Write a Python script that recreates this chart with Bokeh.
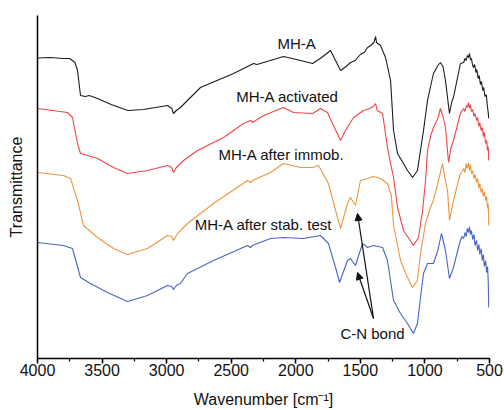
from bokeh.plotting import figure
from bokeh.models import Range1d, SingleIntervalTicker, FixedTicker, Arrow, NormalHead
from bokeh.core.properties import value
from bokeh.embed import file_html
from bokeh.resources import INLINE

FONT = "Liberation Sans"

# ---- data (wavenumber, transmittance in arbitrary offset units) ----
wn_a = [4000, 3900, 3800, 3750, 3710, 3690, 3667, 3630, 3600, 3535, 3430, 3300, 3180, 2993, 2960, 2947, 2925,
        2893, 2839, 2738, 2482, 2327, 2300, 2095, 1963, 1870, 1800, 1731, 1700, 1653, 1620, 1576, 1540, 1500,
        1470, 1444, 1420, 1395, 1382, 1375, 1344, 1305, 1266, 1243, 1212, 1135, 1096, 1058, 1011, 980, 934,
        900, 880, 860, 841, 810, 790, 779, 725, 700, 690, 680, 672, 663, 655, 648, 640, 632, 624, 615, 605,
        598, 588, 580, 570, 562, 552, 545, 535, 525, 516, 510, 506]
t_a = [300.5, 301, 300, 300, 296, 288, 263, 262, 263, 260, 254, 248, 249, 253, 250, 245, 248,
       251, 258, 271, 285, 295, 294, 302, 298, 295, 301, 308, 300, 288, 291, 296, 298, 304,
       306, 311, 313, 316, 322, 316, 313, 301, 278, 228, 205, 188, 181, 188, 228, 258, 285,
       293, 296, 292, 278, 245, 258, 261, 295, 296, 300, 298, 303, 301, 305, 299, 300, 294, 291, 294, 286,
       289, 280, 283, 274, 277, 268, 271, 262, 264, 252, 246, 240]

wn_b = [4000, 3768, 3729, 3690, 3667, 3613, 3535, 3411, 3303, 3148, 2993, 2960, 2947, 2925, 2908, 2869, 2761,
        2560, 2405, 2350, 2335, 2250, 2095, 2018, 1870, 1809, 1754, 1716, 1653, 1615, 1553, 1476, 1430, 1400,
        1382, 1370, 1328, 1290, 1266, 1243, 1212, 1166, 1089, 1050, 1018, 995, 980, 955, 934, 900, 880, 862,
        841, 817, 800, 779, 725, 712, 700, 690, 680, 672, 663, 655, 648, 640, 630, 620, 612, 600, 592, 582,
        575, 565, 556, 548, 540, 530, 522, 515, 510, 506]
t_b = [250, 246, 241, 215, 205, 203, 200, 191, 185, 188, 193, 191, 186, 191, 193, 198, 208,
       221, 235, 238, 236, 243, 251, 246, 245, 250, 246, 235, 218, 228, 241, 248, 250, 252,
       255, 248, 245, 211, 195, 181, 151, 128, 113, 121, 148, 178, 208, 223, 231, 240, 250, 243,
       231, 196, 210, 218, 245, 248, 250, 247, 253, 251, 256, 250, 254, 247, 249, 242, 245, 238, 241, 232,
       236, 228, 231, 222, 226, 215, 218, 208, 212, 198]

wn_c = [4000, 3799, 3744, 3690, 3644, 3535, 3411, 3303, 3148, 2993, 2960, 2947, 2925, 2908, 2839, 2637, 2374,
        2350, 2335, 2196, 2095, 1963, 1870, 1824, 1747, 1692, 1653, 1600, 1576, 1538, 1499, 1444, 1400, 1344,
        1290, 1260, 1243, 1189, 1135, 1096, 1058, 1034, 996, 957, 930, 895, 864, 845, 825, 810, 779, 740,
        725, 712, 700, 690, 680, 672, 663, 655, 648, 640, 630, 620, 612, 600, 592, 582, 575, 565, 556, 548,
        540, 530, 522, 515, 510, 506]
t_c = [186, 183, 180, 158, 133, 121, 110, 104, 110, 123, 122, 118, 123, 126, 135, 155, 178,
       176, 178, 186, 195, 191, 191, 193, 175, 148, 130, 155, 161, 153, 178, 180, 182, 180,
       175, 163, 133, 98, 81, 71, 78, 105, 135, 151, 160, 178, 195, 180, 168, 138, 158, 178,
       185, 187, 190, 186, 195, 190, 196, 188, 194, 185, 188, 180, 184, 176, 180, 170, 175, 166, 170, 162,
       167, 158, 162, 150, 155, 133]

wn_d = [4000, 3799, 3729, 3667, 3590, 3458, 3303, 3148, 2993, 2960, 2947, 2925, 2893, 2839, 2637, 2374, 2350,
        2335, 2196, 2095, 1940, 1809, 1747, 1692, 1661, 1600, 1576, 1538, 1483, 1444, 1398, 1328, 1290, 1243,
        1189, 1135, 1089, 1058, 1034, 1011, 980, 934, 900, 872, 841, 810, 779, 740, 725, 712, 700, 690, 680,
        672, 663, 655, 648, 640, 630, 620, 612, 600, 592, 582, 575, 565, 556, 548, 540, 530, 522, 515, 510, 506]
t_d = [116, 113, 110, 81, 75, 66, 57, 63, 73, 72, 69, 73, 75, 85, 98, 113, 111,
       113, 120, 121, 120, 123, 115, 91, 76, 98, 100, 93, 115, 111, 113, 111, 98, 58,
       45, 35, 25, 35, 61, 85, 95, 95, 108, 125, 108, 80, 91, 111, 118, 122, 120, 126, 122,
       130, 126, 132, 124, 128, 119, 124, 113, 118, 108, 114, 104, 110, 98, 104, 92, 98, 86, 92, 78, 51]

series_names = ["MH-A", "MH-A activated", "MH-A after immob.", "MH-A after stab. test"]
series_colors = ["#1c1c1c", "#f04545", "#ee9540", "#4566c4"]
label_wn = [1994, 2064, 2111, 2250]
label_t = [315.5, 262, 204, 134]

note_text = "C-N bond"
note_wn, note_t = 1406, 25
arrow_from = (1398, 40)
arrow_tips = [(1522, 145), (1522, 86)]

p = figure(width=504, height=410, output_backend="svg", toolbar_location=None,
           x_range=Range1d(4000, 500), y_range=Range1d(0, 343),
           min_border_left=37, min_border_right=15, min_border_top=15, min_border_bottom=52)
p.outline_line_color = None
p.xgrid.visible = False
p.ygrid.visible = False
p.background_fill_color = "white"
p.border_fill_color = "white"

for xs, ys, c in zip([wn_a, wn_b, wn_c, wn_d], [t_a, t_b, t_c, t_d], series_colors):
    p.line(xs, ys, line_color=c, line_width=1.1)

p.text(x=label_wn, y=label_t, text=series_names, text_font=value(FONT), text_font_size="15px",
       text_align="center", text_baseline="middle", text_color="#111111")
p.text(x=[note_wn], y=[note_t], text=[note_text], text_font=value(FONT), text_font_size="15px",
       text_align="center", text_baseline="middle", text_color="#111111")

for tx, ty in arrow_tips:
    p.add_layout(Arrow(x_start=arrow_from[0], y_start=arrow_from[1], x_end=tx, y_end=ty,
                       line_color="#111111", line_width=1.2,
                       end=NormalHead(size=7, fill_color="#111111", line_color="#111111")))

xa = p.xaxis[0]
xa.ticker = SingleIntervalTicker(interval=500, num_minor_ticks=2)
xa.major_label_text_font = FONT
xa.major_label_text_font_size = "16px"
xa.major_label_text_color = "#111111"
xa.major_tick_out = 5
xa.major_tick_in = 0
xa.minor_tick_out = 3
xa.minor_tick_in = 0
xa.major_label_standoff = 0
xa.axis_line_width = 1.5
xa.major_tick_line_width = 1.5
xa.minor_tick_line_width = 1.2
xa.axis_label = "Wavenumber [cm\u207b\u00b9]"
xa.axis_label_text_font = FONT
xa.axis_label_text_font_size = "16px"
xa.axis_label_text_font_style = "normal"
xa.axis_label_text_color = "#111111"
xa.axis_label_standoff = 12

ya = p.yaxis[0]
ya.ticker = FixedTicker(ticks=[])
ya.major_tick_out = 0
ya.minor_tick_out = 0
ya.axis_line_width = 1.5
ya.axis_label = "Transmittance"
ya.axis_label_text_font = FONT
ya.axis_label_text_font_size = "16px"
ya.axis_label_text_font_style = "normal"
ya.axis_label_text_color = "#111111"
ya.axis_label_standoff = 13

open("out.html", "w").write(file_html(p, INLINE))
